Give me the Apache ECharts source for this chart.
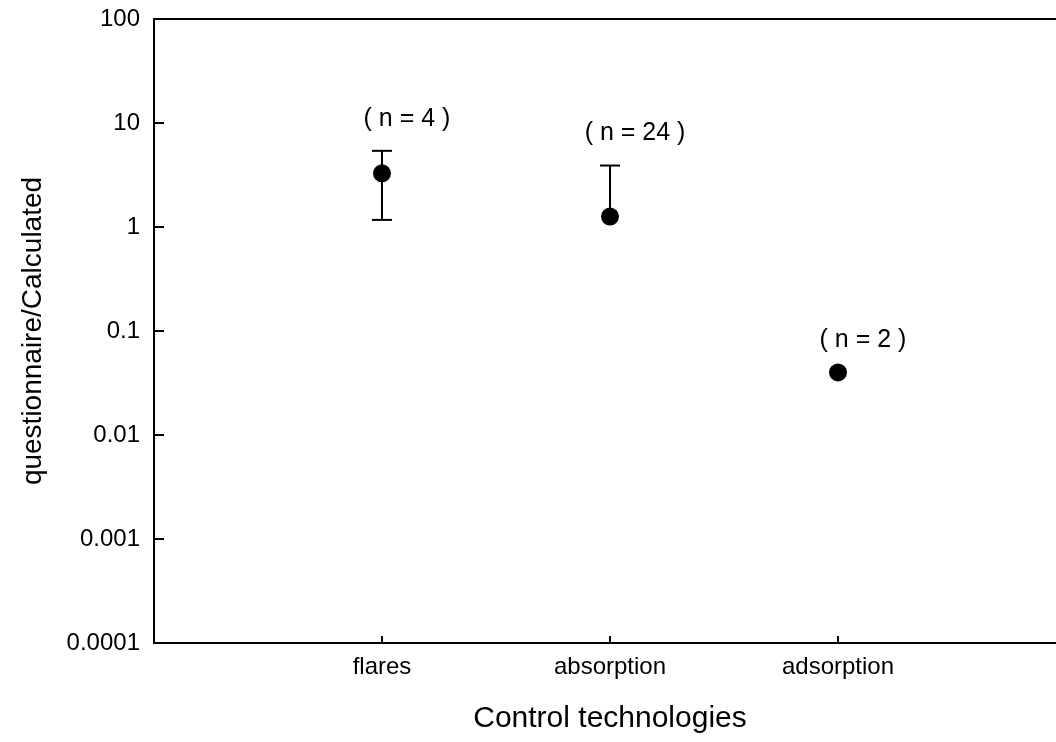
<!DOCTYPE html>
<html>
<head>
<meta charset="utf-8">
<script src="https://cdn.jsdelivr.net/npm/echarts@6/dist/echarts.min.js"></script>
<style>
    html, body {margin: 0; padding: 0; background: #fff;}
    #chart {width: 1056px; height: 742px;}
</style>
</head>
<body>
<div id="chart"></div>
<script>
// categories and values
const categories = ['flares', 'absorption', 'adsorption'];
const ratioMean = [3.28, 1.26, 0.040];
const ratioUpper = [5.4, 3.9, null];
const ratioLower = [1.17, null, null];
const sampleCounts = [4, 24, 2];
const yTickLabels = ['0.0001', '0.001', '0.01', '0.1', '1', '10', '100'];

const FONT = '"Liberation Sans", Arial, sans-serif';

const chartDom = document.getElementById('chart');
const myChart = echarts.init(chartDom);

// x positions 1..3 on a 0..4 axis; the figure is cut off before the right end
const points = categories.map((c, i) => [i + 1, ratioMean[i]]);
const bars = categories.map((c, i) => [
    i + 1,
    ratioMean[i],
    ratioUpper[i] == null ? ratioMean[i] : ratioUpper[i],
    ratioLower[i] == null ? ratioMean[i] : ratioLower[i],
    sampleCounts[i]
]);

function renderBar(params, api) {
    const x = api.value(0);
    const top = api.coord([x, api.value(2)]);
    const bottom = api.coord([x, api.value(3)]);
    const half = 10;
    const style = {stroke: '#000', lineWidth: 2};
    const children = [];
    if (api.value(2) !== api.value(1) || api.value(3) !== api.value(1)) {
        children.push({type: 'line', shape: {x1: top[0], y1: top[1], x2: bottom[0], y2: bottom[1]}, style: style});
    }
    if (api.value(2) !== api.value(1)) {
        children.push({type: 'line', shape: {x1: top[0] - half, y1: top[1], x2: top[0] + half, y2: top[1]}, style: style});
    }
    if (api.value(3) !== api.value(1)) {
        children.push({type: 'line', shape: {x1: bottom[0] - half, y1: bottom[1], x2: bottom[0] + half, y2: bottom[1]}, style: style});
    }
    children.push({
        type: 'text',
        x: top[0] + 25,
        y: top[1] - 32,
        style: {
            text: '( n = ' + api.value(4) + ' )',
            font: '25px ' + FONT,
            fill: '#000',
            align: 'center',
            verticalAlign: 'middle'
        }
    });
    return {type: 'group', children: children};
}

const option = {
    animation: false,
    backgroundColor: '#fff',
    textStyle: {fontFamily: FONT, color: '#000'},
    grid: {
        left: 154,
        top: 19,
        width: 912,
        height: 624,
        outerBoundsMode: 'none',
        containLabel: false
    },
    xAxis: [
        {
            type: 'value',
            min: 0,
            max: 4,
            interval: 1,
            name: 'Control technologies',
            nameLocation: 'middle',
            nameGap: 61,
            nameTextStyle: {fontSize: 30, color: '#000', fontFamily: FONT},
            splitLine: {show: false},
            axisLine: {lineStyle: {color: '#000', width: 2}},
            axisTick: {inside: true, length: 7, lineStyle: {color: '#000', width: 2}},
            axisLabel: {
                fontSize: 24,
                color: '#000',
                margin: 12,
                fontFamily: FONT,
                formatter: v => categories[v - 1] || ''
            }
        },
        {
            // frame line along the top
            type: 'value',
            position: 'top',
            min: 0,
            max: 4,
            splitLine: {show: false},
            axisLine: {show: true, lineStyle: {color: '#000', width: 2}},
            axisTick: {show: false},
            axisLabel: {show: false}
        }
    ],
    yAxis: {
        type: 'log',
        logBase: 10,
        min: 0.0001,
        max: 100,
        name: 'questionnaire/Calculated',
        nameLocation: 'middle',
        nameGap: 107,
        nameTextStyle: {fontSize: 28, color: '#000', fontFamily: FONT},
        splitLine: {show: false},
        axisLine: {lineStyle: {color: '#000', width: 2}},
        axisTick: {inside: true, length: 10, lineStyle: {color: '#000', width: 2}},
        axisLabel: {
            fontSize: 24,
            color: '#000',
            margin: 14,
            fontFamily: FONT,
            formatter: v => yTickLabels[Math.round(Math.log10(v)) + 4]
        }
    },
    series: [
        {
            type: 'custom',
            renderItem: renderBar,
            data: bars,
            clip: false,
            z: 2
        },
        {
            type: 'scatter',
            data: points,
            symbol: 'circle',
            symbolSize: 18,
            itemStyle: {color: '#000', opacity: 1},
            z: 3
        }
    ]
};

myChart.setOption(option);
</script>
</body>
</html>
